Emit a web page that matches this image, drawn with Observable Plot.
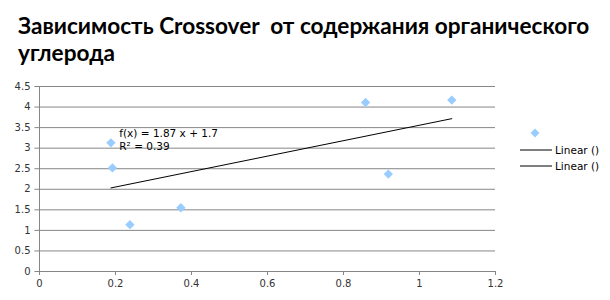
<!DOCTYPE html>
<html><head><meta charset="utf-8">
<script src="https://cdn.jsdelivr.net/npm/d3@7"></script>
<script src="https://cdn.jsdelivr.net/npm/@observablehq/plot@0.6"></script>
<style>
body{margin:0;background:#fff;}
#wrap{position:relative;width:610px;height:300px;overflow:hidden;}
#title{position:absolute;left:18px;top:12px;font-family:Lato,"Open Sans",sans-serif;font-weight:bold;font-size:22.6px;line-height:27px;color:#000;width:590px;white-space:pre-wrap;}
#chart{position:absolute;left:0;top:0;}
#legend{position:absolute;left:0;top:0;}
</style></head>
<body><div id="wrap"><div id="chart"></div><div id="title"></div><svg id="legend" width="610" height="300"></svg></div>
<script>
const titleText = "Зависимость Crossover  от содержания органического углерода";
const carbon = [0.188, 0.192, 0.238, 0.372, 0.858, 0.918, 1.085];
const crossover = [3.13, 2.52, 1.14, 1.55, 4.11, 2.37, 4.17];
const xTicks = [0, 0.2, 0.4, 0.6, 0.8, 1, 1.2];
const yTicks = [0, 0.5, 1, 1.5, 2, 2.5, 3, 3.5, 4, 4.5];
const eqLines = ["f(x) = 1.87 x + 1.7", "R² = 0.39"];
const eqY = [3.35, 3.03];
const legendLabels = ["Linear ()", "Linear ()"];

document.getElementById("title").textContent = titleText;
const data = carbon.map((x, i) => ({x, y: crossover[i]}));
const eqData = eqLines.map((t, i) => ({t, y: eqY[i]}));
const font = "DejaVu Sans, Verdana, sans-serif";

const plot = Plot.plot({
  width: 610, height: 300,
  marginTop: 86, marginBottom: 29, marginLeft: 39, marginRight: 115,
  style: {fontFamily: font, fontSize: "10px", color: "#333", background: "transparent"},
  x: {domain: [0, 1.2], label: null},
  y: {domain: [0, 4.5], label: null},
  marks: [
    Plot.ruleY(yTicks, {y: d => d, x1: -0.012, x2: 1.2, stroke: "#868686", strokeWidth: 1, strokeOpacity: 1}),
    Plot.ruleX([0], {x: d => d, stroke: "#868686", strokeOpacity: 1}),
    Plot.axisX({ticks: xTicks, tickSize: 4, tickPadding: 4, stroke: "#868686", strokeOpacity: 1, tickFormat: d => String(d), fill: "#333"}),
    Plot.axisY({ticks: yTicks, tickSize: 0, tickPadding: 9, tickFormat: d => String(d), fill: "#333"}),
    Plot.linearRegressionY(data, {x: "x", y: "y", ci: 0, stroke: "#000", strokeWidth: 1}),
    Plot.dot(data, {x: "x", y: "y", symbol: "diamond2", r: 4.2, fill: "#99ccff", stroke: "none"}),
    Plot.text(eqData, {x: () => 0.21, y: "y", text: "t", textAnchor: "start", fill: "#000", fontSize: 10.5, fontFamily: font})
  ]
});
document.getElementById("chart").appendChild(plot);

// legend
const lg = d3.select("#legend");
const sym = d3.symbol(d3.symbolDiamond2, 50)();
lg.append("path").attr("d", sym).attr("transform", "translate(535,133)").attr("fill", "#99ccff");
legendLabels.forEach((t, i) => {
  const y = 150 + i * 16;
  lg.append("line").attr("x1", 520).attr("x2", 552).attr("y1", y).attr("y2", y).attr("stroke", "#000");
  lg.append("text").attr("x", 555).attr("y", y + 4).text(t)
    .attr("font-family", font).attr("font-size", 10.5).attr("fill", "#000");
});
</script></body></html>
